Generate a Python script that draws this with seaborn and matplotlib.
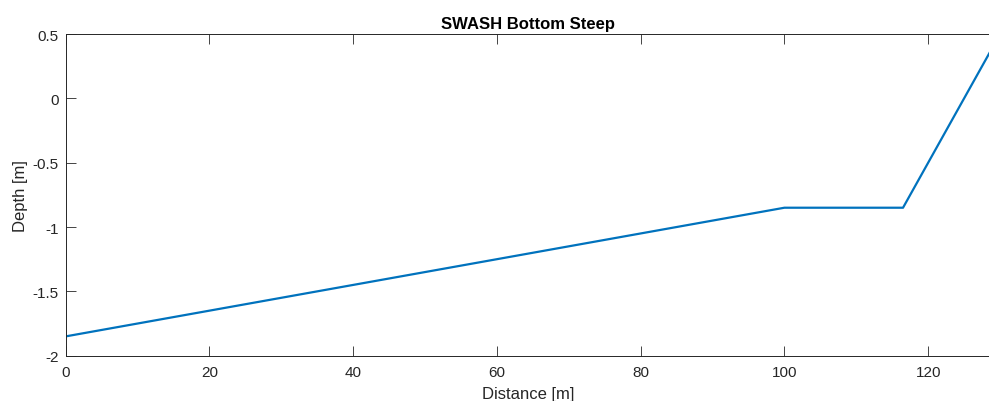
import matplotlib
matplotlib.use("Agg")
import matplotlib.pyplot as plt
import seaborn as sns
import pandas as pd

distance = [0, 100, 116.5, 128.6]
depth = [-1.85, -0.85, -0.85, 0.36]
xticks = [0, 20, 40, 60, 80, 100, 120]
yticks = [-2, -1.5, -1, -0.5, 0, 0.5]
ytick_labels = ["-2", "-1.5", "-1", "-0.5", "0", "0.5"]

sns.set_style("white")
plt.rcParams['font.family'] = ['Liberation Sans', 'DejaVu Sans']

df = pd.DataFrame({"Distance": distance, "Depth": depth})

fig = plt.figure(figsize=(9.89, 4.02), dpi=100)
ax = fig.add_axes([0.0664, 0.1127, 0.9346, 0.8002])
sns.lineplot(data=df, x="Distance", y="Depth", ax=ax, color="#0072BD", linewidth=1.6, sort=False)

ax.set_xlim(0, 128.6)
ax.set_ylim(-2, 0.5)
ax.set_xticks(xticks)
ax.set_xticklabels([str(t) for t in xticks])
ax.set_yticks(yticks)
ax.set_yticklabels(ytick_labels)
ax.tick_params(direction="in", length=7, width=0.6, colors="#262626", labelsize=11,
               top=True, bottom=True, left=True, right=False)
ax.tick_params(axis="x", pad=7)
ax.tick_params(axis="y", pad=5)
for s in ["left", "bottom", "top"]:
    ax.spines[s].set_color("#262626")
    ax.spines[s].set_linewidth(0.7)
ax.spines["right"].set_visible(False)

ax.set_xlabel("Distance [m]", fontsize=12, color="#262626", labelpad=5)
ax.set_ylabel("Depth [m]", fontsize=12, color="#262626", labelpad=3)
ax.set_title("SWASH Bottom Steep", fontsize=12, fontweight="bold", color="black", pad=4)

fig.savefig("out.png", dpi=100)
